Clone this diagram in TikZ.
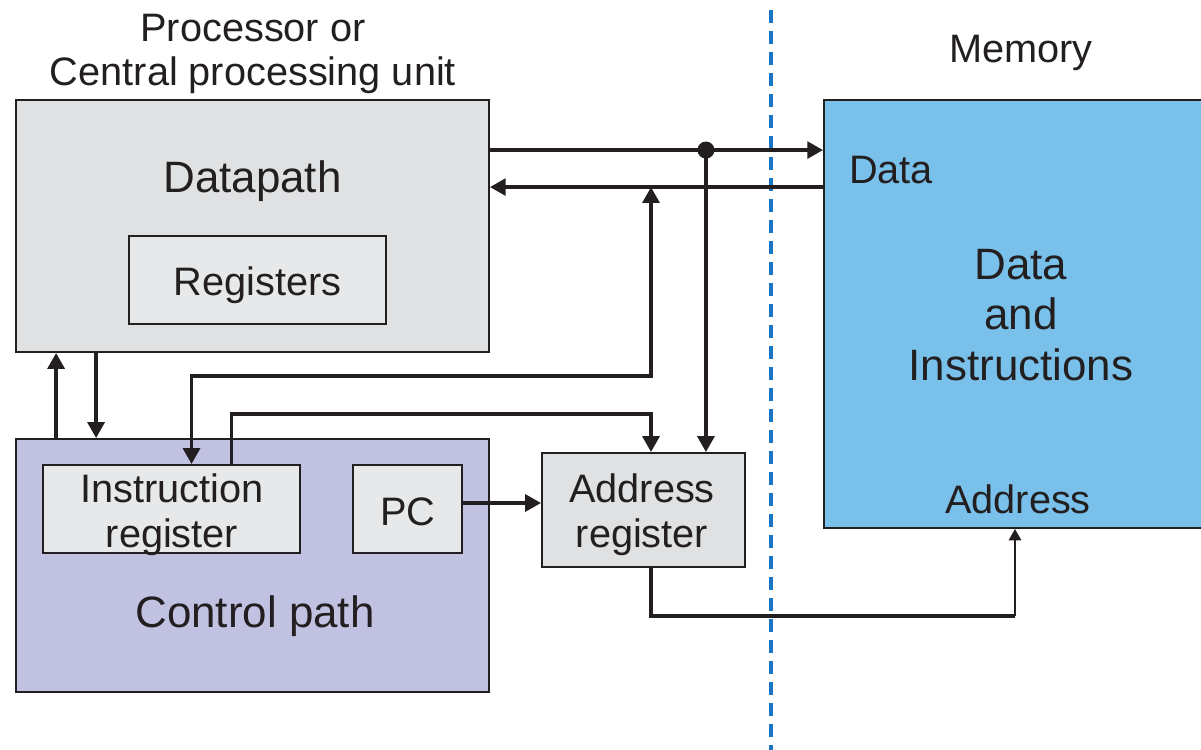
\documentclass[tikz,border=0pt]{standalone}
\usepackage{fontspec}
\setmainfont{Liberation Sans}
\usepackage{tikz}
\usetikzlibrary{arrows.meta}
\usetikzlibrary{calc}
\definecolor{inkcolor}{HTML}{231F20}
\definecolor{dpcolor}{HTML}{E0E1E3}
\definecolor{regcolor}{HTML}{E7E8E9}
\definecolor{ctlcolor}{HTML}{C1C2E2}
\definecolor{memcolor}{HTML}{79C1EA}
\definecolor{dashcolor}{HTML}{1A75C4}

\begin{document}
\begin{tikzpicture}[x=0.02cm,y=-0.02cm,
  box/.style={draw=inkcolor,line width=1.1pt,inner sep=0pt},
  wire/.style={draw=inkcolor,line width=2.1pt},
  thinwire/.style={draw=inkcolor,line width=1.2pt},
  tip/.style={-{Triangle[length=9pt,width=9.5pt]}},
  tipboth/.style={{Triangle[length=9pt,width=9.5pt]}-{Triangle[length=9pt,width=9.5pt]}},
  smalltip/.style={-{Triangle[length=6.5pt,width=7pt]}},
  txt/.style={text=inkcolor,inner sep=0pt,align=center,font=\fontsize{22.6}{25.3}\selectfont},
  big/.style={text=inkcolor,inner sep=0pt,align=center,font=\fontsize{25}{28.7}\selectfont}]
%%\draw[step=50,color=black!30,dotted] (0,0) grid (1201,750);
\useasboundingbox (0,0) rectangle (1201,750);

% separation line between processor and memory
\draw[dashcolor,line width=1.8pt,dash pattern=on 0.26cm off 0.16cm] (771,10) -- (771,750);

% boxes
\node[box,fill=dpcolor,minimum width=9.46cm,minimum height=5.04cm] (dp) at (252.5,226) {};
\node[box,fill=regcolor,minimum width=5.14cm,minimum height=1.76cm] (reg) at (257.5,280) {};
\node[box,fill=ctlcolor,minimum width=9.46cm,minimum height=5.06cm] (cp) at (252.5,565.5) {};
\node[box,fill=regcolor,minimum width=5.14cm,minimum height=1.76cm] (ir) at (171.5,509) {};
\node[box,fill=regcolor,minimum width=2.18cm,minimum height=1.76cm] (pc) at (407.5,509) {};
\node[box,fill=dpcolor,minimum width=4.06cm,minimum height=2.28cm] (ar) at (643.5,510) {};
\node[box,fill=memcolor,minimum width=7.64cm,minimum height=8.56cm] (mem) at (1015,314) {};

% texts (base = last line)
\node[txt,anchor=base] (cputext) at (253,86) {Processor or\\Central processing unit};
\node[big,anchor=base] (dptext) at (252.5,193) {Datapath};
\node[txt,anchor=base] (regtext) at (257.5,296) {Registers};
\node[txt,anchor=base] (irtext) at (172,547) {Instruction\\register};
\node[txt,anchor=base] (pctext) at (408,525) {PC};
\node[big,anchor=base] (cptext) at (255,627) {Control path};
\node[txt,anchor=base] (artext) at (642,547) {Address\\register};
\node[txt,anchor=base] (memtitle) at (1021,63) {Memory};
\node[txt,anchor=base] (dataport) at (891,184) {Data};
\node[big,anchor=base] (memtext) at (1021,380) {Data\\and\\Instructions};
\node[txt,anchor=base] (addrport) at (1018,513) {Address};

% connection points
\coordinate (dbusout) at ([shift={(0,51)}]dp.north east);
\coordinate (dbusin) at ([shift={(0,88)}]dp.north east);
\coordinate (tap) at ([shift={(-40,0)}]ar.east |- dbusout);
\coordinate (irin) at ([shift={(20,0)}]ir.north);
\coordinate (irout) at ([shift={(60,0)}]ir.north);
\coordinate (arin) at ([shift={(7.5,0)}]ar.north);
\coordinate (bend) at ([shift={(0,87)}]mem.south);

% data bus
\draw[wire,tip] (dbusout) -- (dbusout -| mem.west);
\draw[wire,tip] (dbusin -| mem.west) -- (dbusin);
\fill[inkcolor] (tap) circle[radius=0.17cm];
\draw[wire,tip] (tap) -- (tap |- ar.north);

% datapath <-> control path
\draw[wire,tip] ([shift={(41,0)}]cp.north west) -- ([shift={(41,0)}]dp.south west);
\draw[wire,tip] ([shift={(81,0)}]dp.south west) -- ([shift={(81,0)}]cp.north west);

% instruction register and address register
\draw[wire,tipboth] (irin) -- ++(0,-88) -| (arin |- dbusin);
\draw[wire,tip] (irout) -- ++(0,-50) -| (arin);
\draw[wire,tip] ([shift={(0,-6)}]pc.east) -- ([shift={(0,-6)}]pc.east -| ar.west);
\draw[wire] (arin |- ar.south) |- (bend);
\draw[thinwire,smalltip] (bend) -- (mem.south);
\end{tikzpicture}
\end{document}
